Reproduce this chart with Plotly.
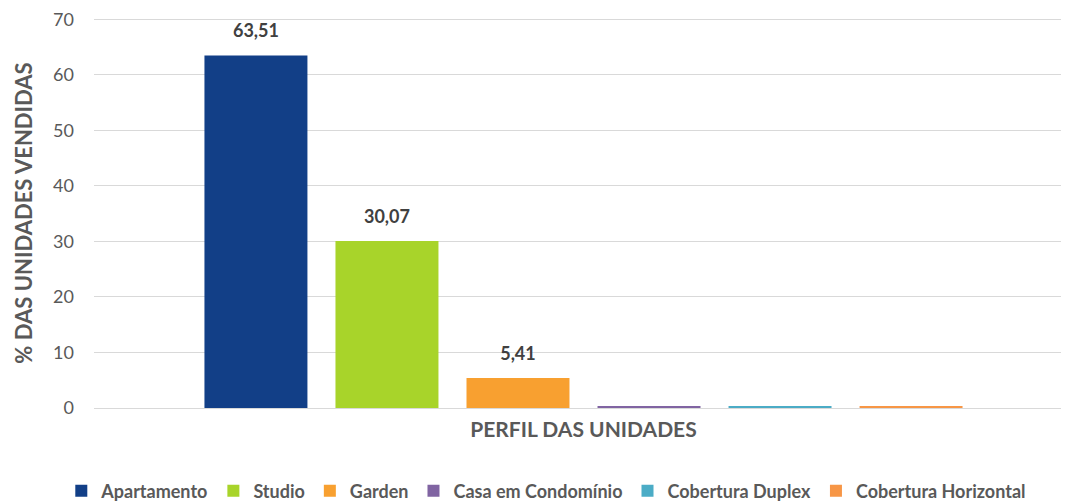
import plotly.graph_objects as go

# Perfil das unidades vendidas (%)
categoria = "PERFIL DAS UNIDADES"
perfis = ["Apartamento", "Studio", "Garden", "Casa em Condomínio",
          "Cobertura Duplex", "Cobertura Horizontal"]
valores = [63.51, 30.07, 5.41, 0.36, 0.33, 0.32]
rotulos = ["63,51", "30,07", "5,41", "", "", ""]
cores = ["#123f87", "#a8d42a", "#f8a030", "#8064a2", "#4bacc6", "#f79646"]

GRAY = "#595959"
FONT = "Lato, Open Sans, sans-serif"

fig = go.Figure()
for nome, v, cor in zip(perfis, valores, cores):
    fig.add_trace(go.Bar(
        name=nome, x=[categoria], y=[v], offsetgroup=nome,
        marker=dict(color=cor, line=dict(width=0)),
        hoverinfo="name+y",
    ))

# data labels: text-only scatter grouped like the bars, lifted by an invisible marker
for nome, v, rot in zip(perfis, valores, rotulos):
    fig.add_trace(go.Scatter(
        x=[categoria], y=[v], offsetgroup=nome, mode="markers+text",
        text=[rot], textposition="top center", cliponaxis=False,
        marker=dict(size=20, opacity=0),
        textfont=dict(size=18, color="#404040", family=FONT, weight="bold"),
        showlegend=False, hoverinfo="skip",
    ))

# page body has an 8px default margin, so the figure is drawn 8px smaller
fig.update_layout(
    width=1065, height=495,
    margin=dict(l=86, r=0, t=10, b=95, autoexpand=False),
    paper_bgcolor="white", plot_bgcolor="white",
    barmode="group", bargap=0.197, bargroupgap=0.214,
    scattermode="group", scattergap=0.197,
    font=dict(family=FONT, color=GRAY),
    showlegend=True,
    legend=dict(orientation="h", x=0.462, xanchor="center", y=-0.213, yanchor="middle",
                font=dict(size=18, color=GRAY, family=FONT, weight="bold"),
                itemwidth=30, tracegroupgap=0),
)
fig.update_xaxes(showline=False, showgrid=False, ticks="", automargin=False,
                 ticklabelstandoff=7,
                 tickfont=dict(size=21, color=GRAY, family=FONT, weight="bold"))
fig.update_yaxes(range=[0, 70.25], tickvals=[0, 10, 20, 30, 40, 50, 60, 70],
                 showgrid=True, gridcolor="#d9d9d9", ticklabeloverflow="allow",
                 zeroline=True, zerolinecolor="#d9d9d9", zerolinewidth=1,
                 ticks="", ticklabelstandoff=19, automargin=False,
                 tickfont=dict(size=18, color=GRAY, family=FONT),
                 title=dict(text="% DAS UNIDADES VENDIDAS", standoff=14,
                            font=dict(size=22, color=GRAY, family=FONT, weight="bold")))

fig.write_html("out.html")
